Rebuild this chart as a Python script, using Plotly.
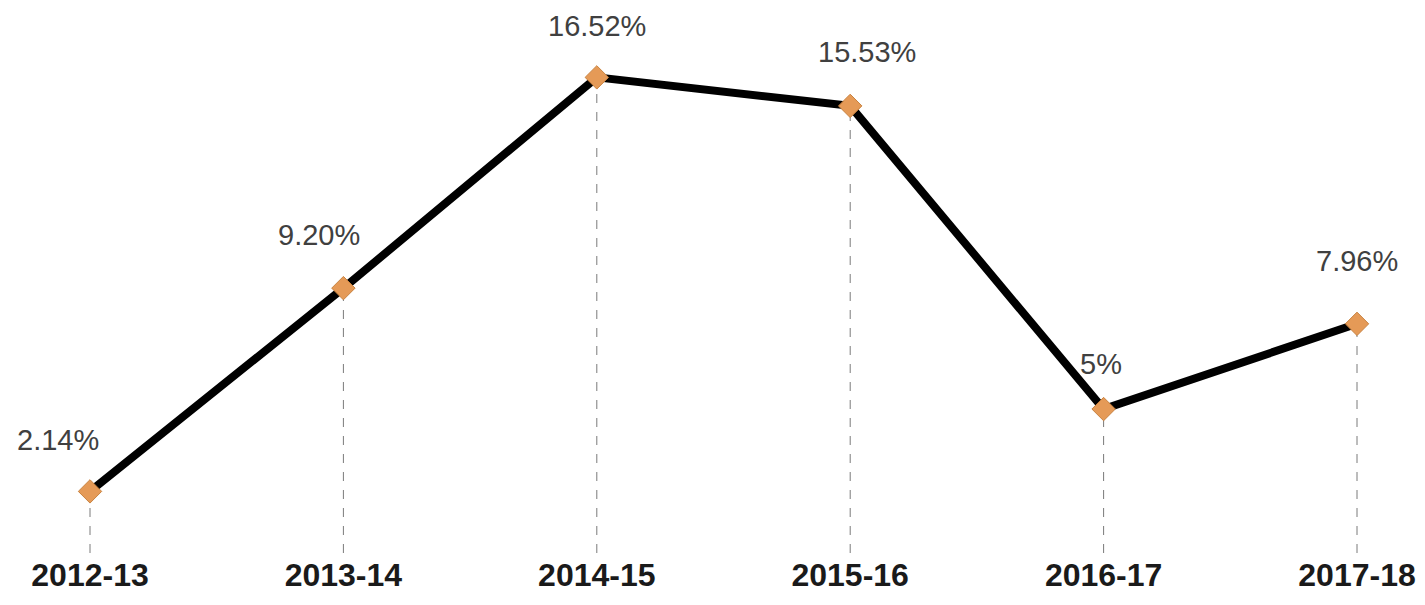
import plotly.graph_objects as go

categories = ["2012-13", "2013-14", "2014-15", "2015-16", "2016-17", "2017-18"]
values = [2.14, 9.20, 16.52, 15.53, 5.00, 7.96]
labels = ["2.14%", "9.20%", "16.52%", "15.53%", "5%", "7.96%"]

# label offsets (pixels) relative to each point
label_dx = [-32, -24, 0, 17, -3, 0]
label_dy = [51, 53, 51, 54, 45, 63]

idx = list(range(len(categories)))

fig = go.Figure()

# dashed drop lines
for i, v in zip(idx, values):
    fig.add_shape(type="line", xref="x", yref="y", x0=i, x1=i, y0=0, y1=v,
                  line=dict(color="#7a7a7a", width=1, dash="dash"), layer="below")

fig.add_trace(go.Scatter(
    x=idx, y=values, mode="lines+markers",
    line=dict(color="#000000", width=8),
    marker=dict(symbol="diamond", size=18, color="#E59A57",
                line=dict(color="#C8823F", width=1)),
    hoverinfo="skip", showlegend=False,
))

for i, v, t, dx, dy in zip(idx, values, labels, label_dx, label_dy):
    fig.add_annotation(x=i, y=v, text=t, showarrow=False, xshift=dx, yshift=dy,
                       font=dict(family="Liberation Sans, Arial", size=29, color="#404040"))

px_per_unit = 1267 / 5
fig.update_layout(
    width=1425, height=605,
    margin=dict(l=0, r=0, t=0, b=52),
    paper_bgcolor="white", plot_bgcolor="white",
    xaxis=dict(
        range=[-90 / px_per_unit, 5 + 68 / px_per_unit],
        tickvals=idx, ticktext=["<b>%s</b>" % c for c in categories],
        tickfont=dict(family="Liberation Sans, Arial", size=32, color="#1a1a1a"),
        showgrid=False, zeroline=False, showline=False,
        ticks="", ticklabelstandoff=0,
        automargin=False, fixedrange=True,
    ),
    yaxis=dict(
        range=[0, 553 / 28.79], visible=False, showgrid=False, zeroline=False,
        automargin=False, fixedrange=True,
    ),
)

fig.write_html("out.html")
